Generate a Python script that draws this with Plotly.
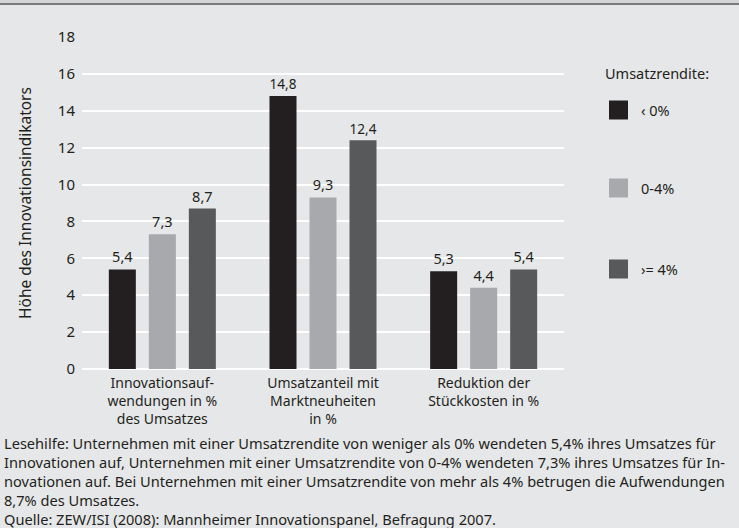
import plotly.graph_objects as go

# data
categories = [
    "Innovationsauf-<br>wendungen in %<br>des Umsatzes",
    "Umsatzanteil mit<br>Marktneuheiten<br>in %",
    "Reduktion der<br>Stückkosten in %",
]
series_names = ["‹ 0%", "0-4%", "›= 4%"]
values_neg = [5.4, 14.8, 5.3]
values_low = [7.3, 9.3, 4.4]
values_high = [8.7, 12.4, 5.4]
y_ticks = [0, 2, 4, 6, 8, 10, 12, 14, 16, 18]

colors = ["#231f20", "#a7a9ac", "#58595b"]
bg = "#e6e7e8"
text_col = "#231f20"
font_family = "Noto Sans"

legend_title = "Umsatzrendite:"
y_title = "Höhe des Innovationsindikators"
caption_lines = [
    "Lesehilfe: Unternehmen mit einer Umsatzrendite von weniger als 0% wendeten 5,4% ihres Umsatzes für",
    "Innovationen auf, Unternehmen mit einer Umsatzrendite von 0-4% wendeten 7,3% ihres Umsatzes für In-",
    "novationen auf. Bei Unternehmen mit einer Umsatzrendite von mehr als 4% betrugen die Aufwendungen",
    "8,7% des Umsatzes.",
    "Quelle: ZEW/ISI (2008): Mannheimer Innovationspanel, Befragung 2007.",
]

W, H = 739, 528
M_L, M_R, M_T, M_B = 82, 175, 37, 159
plot_w = W - M_L - M_R
plot_h = H - M_T - M_B


def px_x(x):
    return (x - M_L) / plot_w


def px_y(y):
    return (H - M_B - y) / plot_h


fig = go.Figure()
for name, vals, col in zip(series_names, [values_neg, values_low, values_high], colors):
    fig.add_trace(go.Bar(
        x=categories, y=vals, name=name,
        marker=dict(color=col, line=dict(width=0)),
        texttemplate="%{y:.1f}", textposition="outside",
        textfont=dict(color=text_col, size=14.5, family=font_family),
        cliponaxis=False,
    ))

# hand-made legend: large squares, wide spacing
legend_y = [110, 188, 269]
shapes = []
annotations = []
for name, col, yc in zip(series_names, colors, legend_y):
    shapes.append(dict(type="rect", xref="paper", yref="paper",
                       x0=px_x(609), x1=px_x(628), y0=px_y(yc + 9.5), y1=px_y(yc - 9.5),
                       fillcolor=col, line=dict(width=0)))
    annotations.append(dict(text=name, xref="paper", yref="paper",
                            x=px_x(639), y=px_y(yc), xanchor="left", yanchor="middle",
                            showarrow=False,
                            font=dict(size=14.5, color=text_col, family=font_family)))

annotations.append(dict(text=legend_title, xref="paper", yref="paper",
                        x=px_x(603), y=px_y(73), xanchor="left", yanchor="middle",
                        showarrow=False,
                        font=dict(size=14.5, color=text_col, family=font_family)))

annotations.append(dict(text="<br>".join(caption_lines), xref="paper", yref="paper",
                        x=px_x(2), y=px_y(481),
                        xanchor="left", yanchor="middle",
                        align="left", showarrow=False,
                        font=dict(size=14.6, color=text_col, family=font_family)))

# top border
shapes.append(dict(type="rect", xref="paper", yref="paper",
                   x0=px_x(-5), x1=px_x(W + 5), y0=px_y(4), y1=px_y(-5),
                   fillcolor="#d4d5d6", line=dict(width=0), layer="below"))
shapes.append(dict(type="line", xref="paper", yref="paper",
                   x0=px_x(-5), x1=px_x(W + 5), y0=px_y(4), y1=px_y(4),
                   line=dict(color="#7a7b7d", width=2)))

fig.update_layout(
    width=W, height=H,
    margin=dict(l=M_L, r=M_R, t=M_T, b=M_B),
    paper_bgcolor=bg, plot_bgcolor=bg,
    barmode="group", bargap=0.253, bargroupgap=0.325,
    separators=",.",
    showlegend=False,
    font=dict(family=font_family, color=text_col, size=14.5),
    shapes=shapes, annotations=annotations,
)
fig.update_xaxes(showgrid=False, showline=False, zeroline=False,
                 tickfont=dict(size=14, color=text_col), ticks="",
                 ticklabelstandoff=4)
fig.update_yaxes(range=[0, 18], tickvals=y_ticks, showgrid=True,
                 gridcolor="white", gridwidth=2, zeroline=True,
                 zerolinecolor="white", zerolinewidth=2,
                 showline=False, ticks="", ticklabelstandoff=6,
                 tickfont=dict(size=15, color=text_col),
                 title=dict(text=y_title, standoff=22,
                            font=dict(size=15.5, color=text_col)))

fig.write_html("out.html", config={"displayModeBar": False},
               post_script="document.body.style.margin='0';")
